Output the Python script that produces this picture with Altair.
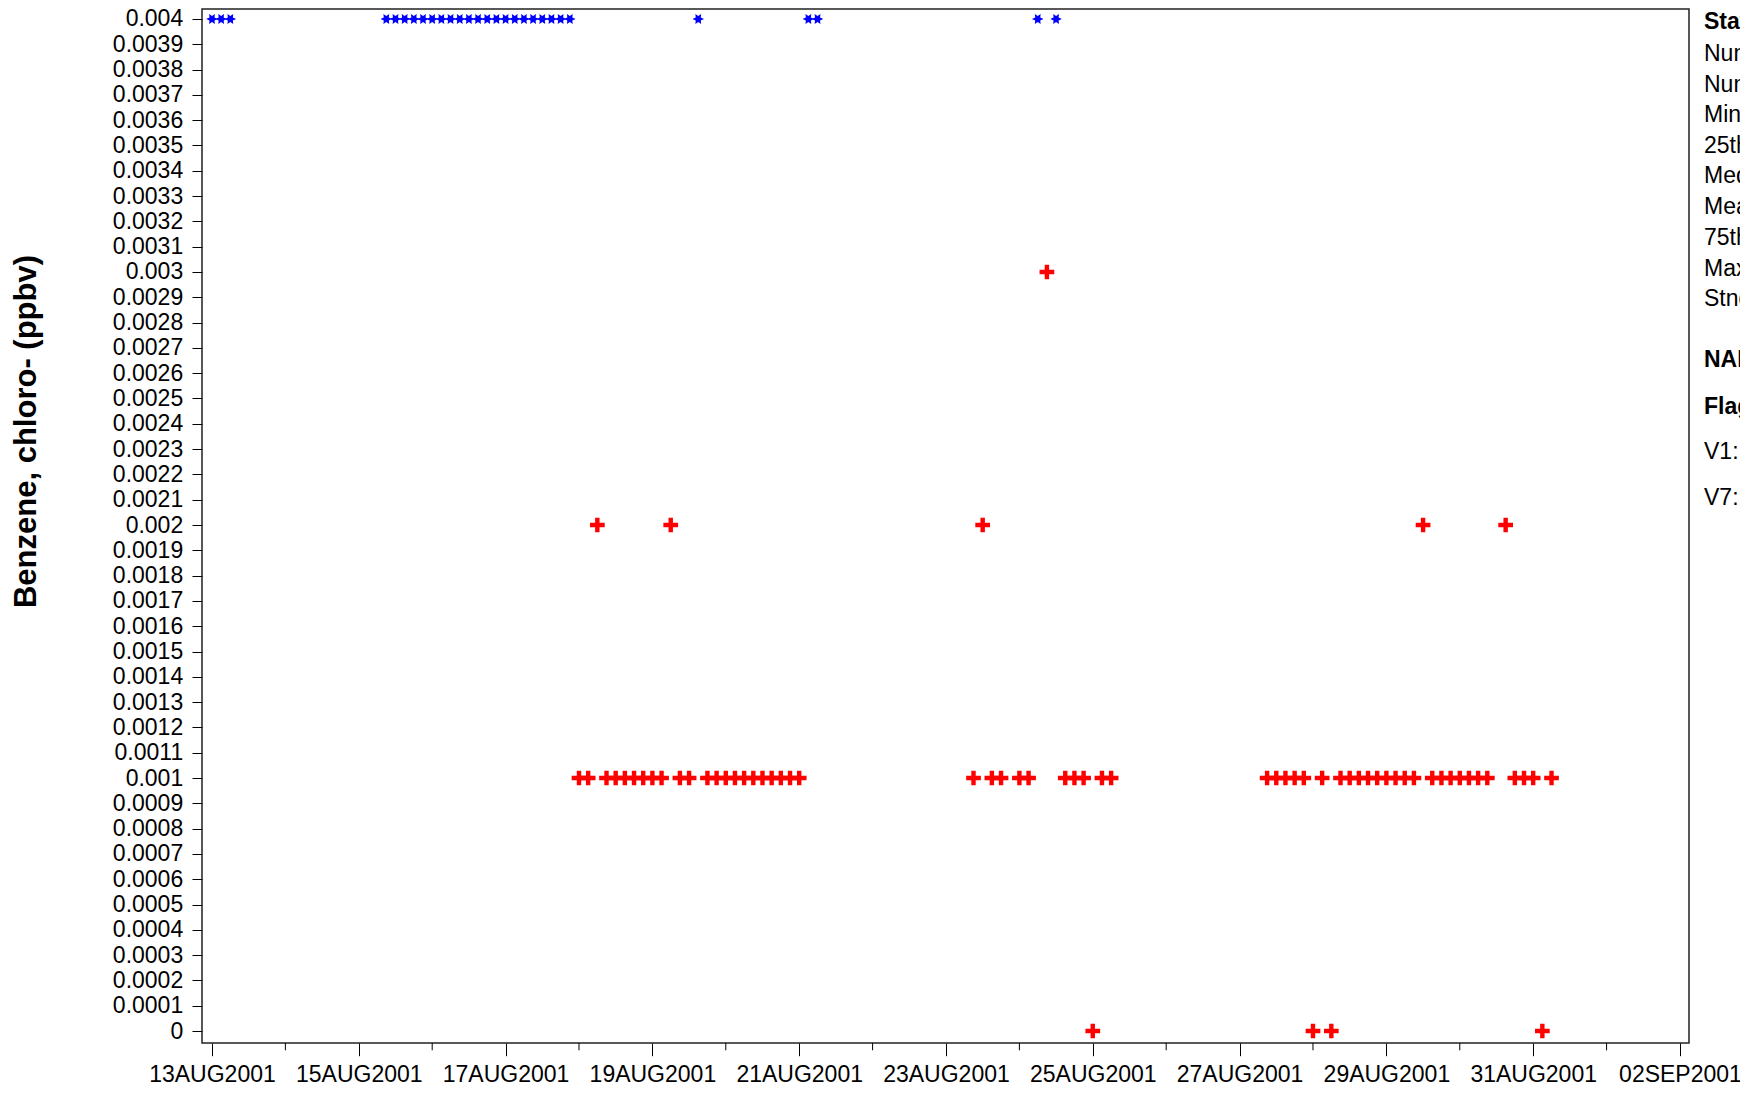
import math
import altair as alt
import pandas as pd
import numpy as np

# ---------------- data ----------------
# V7 flagged samples (blue stars)
v7_times = [
    "2001-08-13T00:00", "2001-08-13T03:00", "2001-08-13T06:00",
    "2001-08-15T09:00", "2001-08-15T12:00", "2001-08-15T15:00", "2001-08-15T18:00", "2001-08-15T21:00",
    "2001-08-16T00:00", "2001-08-16T03:00", "2001-08-16T06:00", "2001-08-16T09:00",
    "2001-08-16T12:00", "2001-08-16T15:00", "2001-08-16T18:00", "2001-08-16T21:00",
    "2001-08-17T00:00", "2001-08-17T03:00", "2001-08-17T06:00", "2001-08-17T09:00",
    "2001-08-17T12:00", "2001-08-17T15:00", "2001-08-17T18:00", "2001-08-17T21:00",
    "2001-08-19T15:00",
    "2001-08-21T03:00", "2001-08-21T06:00",
    "2001-08-24T06:00", "2001-08-24T12:00",
]
v7_values = [
    0.004, 0.004, 0.004,
    0.004, 0.004, 0.004, 0.004, 0.004,
    0.004, 0.004, 0.004, 0.004,
    0.004, 0.004, 0.004, 0.004,
    0.004, 0.004, 0.004, 0.004,
    0.004, 0.004, 0.004, 0.004,
    0.004,
    0.004, 0.004,
    0.004, 0.004,
]

# V1 flagged samples (red crosses)
v1_times = [
    "2001-08-18T00:00", "2001-08-18T03:00", "2001-08-18T06:00",
    "2001-08-18T09:00", "2001-08-18T12:00", "2001-08-18T15:00", "2001-08-18T18:00", "2001-08-18T21:00",
    "2001-08-19T00:00", "2001-08-19T03:00", "2001-08-19T06:00", "2001-08-19T09:00", "2001-08-19T12:00",
    "2001-08-19T18:00", "2001-08-19T21:00",
    "2001-08-20T00:00", "2001-08-20T03:00", "2001-08-20T06:00", "2001-08-20T09:00",
    "2001-08-20T12:00", "2001-08-20T15:00", "2001-08-20T18:00", "2001-08-20T21:00",
    "2001-08-21T00:00",
    "2001-08-23T09:00", "2001-08-23T12:00", "2001-08-23T15:00", "2001-08-23T18:00",
    "2001-08-24T00:00", "2001-08-24T03:00", "2001-08-24T09:00",
    "2001-08-24T15:00", "2001-08-24T18:00", "2001-08-24T21:00",
    "2001-08-25T00:00", "2001-08-25T03:00", "2001-08-25T06:00",
    "2001-08-27T09:00", "2001-08-27T12:00", "2001-08-27T15:00", "2001-08-27T18:00", "2001-08-27T21:00",
    "2001-08-28T00:00", "2001-08-28T03:00", "2001-08-28T06:00",
    "2001-08-28T09:00", "2001-08-28T12:00", "2001-08-28T15:00", "2001-08-28T18:00", "2001-08-28T21:00",
    "2001-08-29T00:00", "2001-08-29T03:00", "2001-08-29T06:00", "2001-08-29T09:00", "2001-08-29T12:00",
    "2001-08-29T15:00", "2001-08-29T18:00", "2001-08-29T21:00",
    "2001-08-30T00:00", "2001-08-30T03:00", "2001-08-30T06:00", "2001-08-30T09:00",
    "2001-08-30T15:00", "2001-08-30T18:00", "2001-08-30T21:00",
    "2001-08-31T00:00", "2001-08-31T03:00", "2001-08-31T06:00",
]
v1_values = [
    0.001, 0.001, 0.002,
    0.001, 0.001, 0.001, 0.001, 0.001,
    0.001, 0.001, 0.002, 0.001, 0.001,
    0.001, 0.001,
    0.001, 0.001, 0.001, 0.001,
    0.001, 0.001, 0.001, 0.001,
    0.001,
    0.001, 0.002, 0.001, 0.001,
    0.001, 0.001, 0.003,
    0.001, 0.001, 0.001,
    0.0, 0.001, 0.001,
    0.001, 0.001, 0.001, 0.001, 0.001,
    0.0, 0.001, 0.0,
    0.001, 0.001, 0.001, 0.001, 0.001,
    0.001, 0.001, 0.001, 0.001, 0.002,
    0.001, 0.001, 0.001,
    0.001, 0.001, 0.001, 0.001,
    0.002, 0.001, 0.001,
    0.001, 0.0, 0.001,
]

# axis ticks
x_major_days = ["2001-08-13", "2001-08-15", "2001-08-17", "2001-08-19", "2001-08-21", "2001-08-23",
                "2001-08-25", "2001-08-27", "2001-08-29", "2001-08-31", "2001-09-02"]
x_minor_days = ["2001-08-14T00:00", "2001-08-16T00:00", "2001-08-18T00:00", "2001-08-20T00:00",
                "2001-08-22T00:00", "2001-08-24T00:00", "2001-08-26T00:00", "2001-08-28T00:00",
                "2001-08-30T00:00", "2001-09-01T00:00"]
y_ticks = [round(i * 0.0001, 4) for i in range(41)]

y_title = "Benzene, chloro- (ppbv)"
NB = "\u00a0"
flag_lines = [
    "V1:" + NB * 4 + "Valid value but comprised wholly or partially of below detection limit data",
    "V7:" + NB * 4 + "Valid value but set equal to the detection limit (DL) because the measured value was below the DL",
]

# ---------------- layout ----------------
FONT = "Liberation Sans"
W, H = 1487, 1034
PAD = {"left": 194, "top": 1, "right": 51, "bottom": 44}


def dt(s, h=0, m=0):
    y, mo, d = s[:10].split("-")
    return alt.DateTime(year=int(y), month=int(mo), date=int(d), hours=h, minutes=m)


x_scale = alt.Scale(domain=[dt("2001-08-12", 20, 44), dt("2001-09-02", 2, 57)])
y_scale = alt.Scale(domain=[-0.0000474, 0.0040395], nice=False, zero=False)

x_axis = alt.Axis(
    values=[dt(s) for s in x_major_days], format="%d%b%Y", labelExpr="upper(datum.label)",
    title=None, grid=False, domain=False, tickSize=12.7, tickColor="black", tickWidth=1,
    labelFont=FONT, labelFontSize=23, labelColor="black", labelPadding=8,
    labelOverlap=False, labelFlush=False, labelBound=False,
)
y_axis = alt.Axis(
    values=y_ticks, format=".4~f", title=y_title, grid=False, domain=False,
    tickSize=10, tickColor="black", tickWidth=1,
    labelFont=FONT, labelFontSize=23, labelColor="black", labelPadding=9.3, labelOverlap=False,
    titleFont=FONT, titleFontSize=31, titleFontWeight="bold", titleColor="black",
    titleX=-176, titleY=422, titleAngle=-90, titleAlign="center", titleBaseline="middle",
)


def xenc():
    return alt.X("t:T", scale=x_scale, axis=x_axis)


def yenc():
    return alt.Y("v:Q", scale=y_scale, axis=y_axis)


# marker shapes (unit square -1..1)
pts = []
for k in range(12):
    r = 1.0 if k % 2 == 0 else 0.5
    a = math.radians(k * 30)
    pts.append(f"{r * math.cos(a):.3f},{-r * math.sin(a):.3f}")
star_path = "M" + "L".join(pts) + "Z"
t = 0.3
cross_path = (f"M-1,-{t}H-{t}V-1H{t}V-{t}H1V{t}H{t}V1H-{t}V{t}H-1Z")

df7 = pd.DataFrame({"t": v7_times, "v": v7_values})
df1 = pd.DataFrame({"t": v1_times, "v": v1_values})
dfm = pd.DataFrame({"t": x_minor_days, "v": [0.0] * len(x_minor_days)})

stars = alt.Chart(df7).mark_point(
    shape=star_path, filled=True, size=135, color="#0000FF", opacity=1, strokeWidth=0
).encode(x=xenc(), y=yenc())

crosses = alt.Chart(df1).mark_point(
    shape=cross_path, filled=True, size=216, color="#FF0000", opacity=1, strokeWidth=0
).encode(x=xenc(), y=yenc())

minor = alt.Chart(dfm).mark_rule(color="black", strokeWidth=1).encode(
    x=xenc(), y=alt.value(H), y2=alt.value(H + 7.3)
)

# statistics panel text (computed from the plotted values)
allv = np.array(v7_values + v1_values)
stats_lines = [
    f"Number of Samples:  {len(allv)}",
    f"Number of Non-Detects:  {len(v7_values)}",
    f"Minimum:  {allv.min():.4g}",
    f"25th Percentile:  {np.percentile(allv, 25):.4g}",
    f"Median:  {np.median(allv):.4g}",
    f"Mean:  {allv.mean():.4g}",
    f"75th Percentile:  {np.percentile(allv, 75):.4g}",
    f"Maximum:  {allv.max():.4g}",
    f"Stnd Deviation:  {allv.std(ddof=1):.4g}",
]
panel = [("Statistics", True)] + [(s, False) for s in stats_lines] + \
        [("NARSTO", True), ("Flags", True)] + [(s, False) for s in flag_lines]
panel_y = [13.3, 44.5, 75.7, 105.8, 137, 167.1, 198.4, 228.5, 259.7, 289.8, 351.1, 397.9, 442.5, 489.3]

texts = []
for (line, bold), yy in zip(panel, panel_y):
    texts.append(
        alt.Chart(pd.DataFrame({"label": [line]})).mark_text(
            align="left", baseline="middle", font=FONT, fontSize=23,
            fontWeight="bold" if bold else "normal", color="black"
        ).encode(text="label:N", x=alt.value(W + 15), y=alt.value(yy))
    )

chart = alt.layer(crosses, stars, minor, *texts).properties(
    width=W, height=H,
    autosize=alt.AutoSizeParams(type="none"),
    padding=PAD,
).configure(background="white").configure_view(stroke="#222222", strokeWidth=1.5)

chart.save("out.html", embed_options={"renderer": "svg", "actions": False})
